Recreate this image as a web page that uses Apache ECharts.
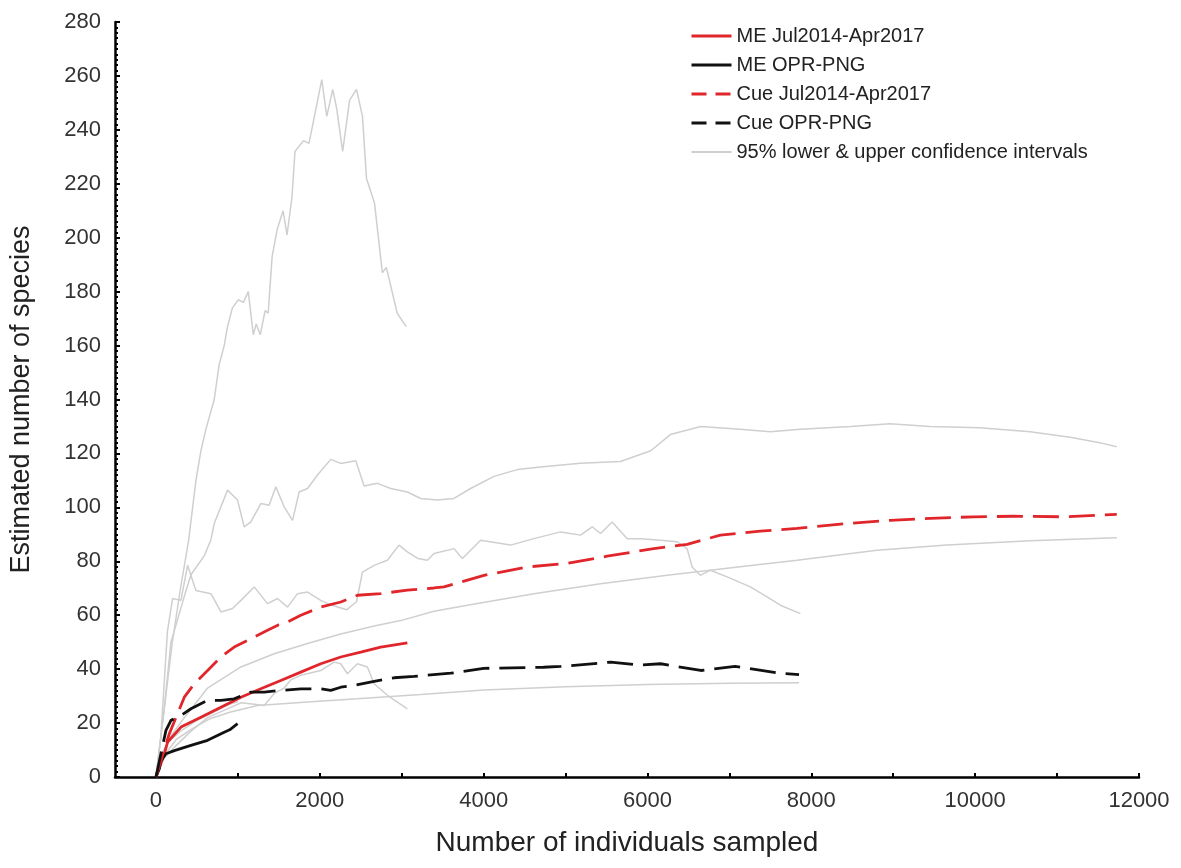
<!DOCTYPE html>
<html>
<head>
<meta charset="utf-8">
<script src="https://cdn.jsdelivr.net/npm/echarts@6/dist/echarts.min.js"></script>
<style>
  html, body { margin: 0; padding: 0; background: #fff; }
  #chart { width: 1181px; height: 868px; }
</style>
</head>
<body>
<div id="chart"></div>
<script>
// rarefaction curves: [individuals, species]
var meJul = [[0,0],[20,0.5],[102,8.6],[143,13],[305,18.5],[549,22.2],[793,25.9],[1037,29.6],[1280,32.7],[1524,35.8],[1768,38.9],[2012,42],[2256,44.5],[2500,46.3],[2744,48.2],[3069,49.7]];
var meOpr = [[0,0],[40,3],[61,6],[122,8.6],[224,9.8],[427,11.7],[630,13.6],[833,16.6],[900,17.5],[996,19.8]];
var cueJul = [[0,0],[100,10],[162,16],[264,23.5],[346,29.6],[468,34.6],[630,39.5],[793,44.5],[955,48.2],[1159,51.3],[1362,54.4],[1500,56.5],[1606,57.5],[1768,60],[2012,63],[2256,64.9],[2459,67.4],[2744,68],[3069,69.3],[3394,70.1],[3516,70.5],[4004,74.8],[4533,77.9],[5021,79.2],[5508,81.9],[6077,84.7],[6484,86.3],[6890,89.7],[7378,91.2],[7825,92.2],[8435,94],[8963,95.2],[9451,95.9],[9980,96.5],[10467,96.7],[11077,96.5],[11728,97.4]];
var cueOpr = [[0,0],[61,8.7],[122,17.3],[183,21],[305,22.8],[427,25.3],[630,28.4],[793,28.4],[955,29],[1159,31.5],[1321,31.5],[1524,32.1],[1768,32.7],[2012,32.7],[2134,32.1],[2256,33.3],[2419,34],[2663,35.5],[2907,36.8],[3150,37.3],[3600,38.5],[4000,40.3],[4730,40.7],[4940,41],[5550,42.6],[5915,41.5],[6160,42],[6650,39.5],[7070,41],[7620,38.5],[7850,38]];

// 95% confidence limits
var meJulUpper = [[0,0],[100,25],[200,50],[300,70],[400,88],[488,110],[549,121],[610,129],[711,140],[772,153],[833,160],[873,167],[933,174],[1006,177],[1067,176],[1127,180],[1188,164],[1224,168],[1273,164],[1333,173],[1370,172],[1418,193],[1479,203],[1552,210],[1600,201],[1660,215],[1697,232],[1800,236],[1867,235],[1915,242],[2024,258.6],[2085,245],[2158,255],[2206,248],[2279,232],[2364,251],[2448,255],[2521,245],[2570,222],[2667,213],[2764,187],[2812,189],[2945,172],[3055,167]];
var meJulLower = [[0,0],[100,7],[224,11],[427,17],[630,22],[1037,27.5],[1199,27],[1321,26.5],[1443,31],[1565,33],[1646,36],[1768,37.7],[2012,39.5],[2175,42.6],[2256,42],[2337,38.3],[2459,42],[2581,40.8],[2663,34.6],[2825,30.3],[3069,25.3]];
var meOprUpper = [[0,0],[60,8],[150,13],[300,17],[500,21],[700,24],[900,27],[1000,28]];
var cueJulUpper = [[0,0],[100,25],[183,50],[346,67],[427,75],[589,82],[671,88],[711,94],[874,106.4],[996,102.7],[1077,92.8],[1159,94.6],[1280,101.4],[1382,100.8],[1463,107.6],[1565,100.2],[1667,95.2],[1748,105.7],[1850,107],[1972,112],[2134,117.8],[2256,116.3],[2439,117.3],[2541,107.9],[2703,108.9],[2866,107],[3069,105.7],[3232,103.3],[3435,102.7],[3638,103.3],[3841,107],[4126,111.5],[4411,114],[4695,115],[5180,116.4],[5670,117],[6040,121],[6280,127],[6650,130],[7130,129],[7500,128],[7870,129],[8480,130],[8960,131],[9450,130],[10060,129.5],[10670,128],[11160,126],[11520,124],[11728,122.5]];
var cueJulLower = [[0,0],[100,10],[200,16],[346,22],[630,33],[1037,40.8],[1443,45.7],[1850,49.5],[2256,53],[2663,56],[2988,58],[3394,61.5],[3801,63.7],[4614,68],[5427,71.7],[6240,74.8],[7052,77.7],[7825,80.4],[8801,84.1],[9655,86],[10671,87.6],[11728,88.7]];
var cueOprUpper = [[0,0],[60,15],[100,34.5],[140,54],[203,66.2],[305,65.5],[386,78.5],[488,69.2],[671,68],[793,61.2],[935,62.5],[1037,65.5],[1199,70.5],[1362,64.3],[1484,66.2],[1606,63],[1728,68],[1850,68.6],[2012,65.5],[2121,64],[2327,62],[2448,65],[2521,76],[2663,78.5],[2825,80.4],[2967,86],[3069,83.5],[3200,81],[3313,80.4],[3394,82.9],[3638,84.7],[3740,81],[3963,87.8],[4329,86],[4614,88.4],[4939,90.9],[5183,89.7],[5325,92.8],[5427,90.3],[5569,94.6],[5752,88.4],[5915,88.4],[6159,87.8],[6362,87.2],[6484,84.7],[6545,77.9],[6646,74.8],[6768,76.7],[6972,74.2],[7256,70.5],[7459,66.8],[7622,63.7],[7866,60.6]];
var cueOprLower = [[0,0],[100,8],[250,14],[450,18],[650,21.5],[900,24],[1240,26.5],[1850,27.8],[2459,29],[3232,30.6],[4000,32.3],[5000,33.5],[6000,34.3],[7000,34.8],[7850,35]];

var xLabelValues = [0,2000,4000,6000,8000,10000,12000];
var xTickValues = [0,1000,2000,3000,4000,5000,6000,7000,8000,9000,10000,11000,12000];

var ciName = '95% lower & upper confidence intervals';
var RED = '#e0262b', BLACK = '#111111', GREY = '#cfcfcf';
var font = 'Liberation Sans, Arial, sans-serif';

function ci(d) {
  return {name: ciName, type: 'line', data: d, symbol: 'none', z: 1,
    lineStyle: {color: GREY, width: 1.5}, itemStyle: {color: GREY}};
}
function est(name, d, color, dashed) {
  return {name: name, type: 'line', data: d, symbol: 'none', z: 3,
    lineStyle: {color: color, width: 2.8, type: dashed ? [26, 10] : 'solid'},
    itemStyle: {color: color}};
}

var chart = echarts.init(document.getElementById('chart'));
chart.setOption({
  animation: false,
  textStyle: {fontFamily: font},
  grid: {left: 115, right: 42, top: 22, bottom: 91},
  legend: {
    orient: 'vertical', left: 685, top: 21, itemWidth: 40, itemHeight: 14, itemGap: 9,
    itemStyle: {opacity: 0},
    textStyle: {fontSize: 20, color: '#222', fontFamily: font},
    data: [
      {name: 'ME Jul2014-Apr2017', lineStyle: {width: 3}},
      {name: 'ME OPR-PNG', lineStyle: {width: 3}},
      {name: 'Cue Jul2014-Apr2017', lineStyle: {width: 3, type: [15, 9]}},
      {name: 'Cue OPR-PNG', lineStyle: {width: 3, type: [15, 9]}},
      {name: ciName}
    ]
  },
  xAxis: {
    type: 'value', min: -500, max: 12000,
    name: 'Number of individuals sampled', nameLocation: 'middle', nameGap: 52,
    nameTextStyle: {fontSize: 28, color: '#222'},
    axisLine: {lineStyle: {color: '#000', width: 2.5}},
    axisTick: {inside: true, length: 4, lineStyle: {color: '#000', width: 2}, customValues: xTickValues},
    axisLabel: {fontSize: 22, color: '#333', margin: 13, customValues: xLabelValues,
      formatter: function (v) { return String(v); }},
    splitLine: {show: false}
  },
  yAxis: {
    type: 'value', min: 0, max: 280, interval: 20,
    name: 'Estimated number of species', nameLocation: 'middle', nameGap: 80,
    nameTextStyle: {fontSize: 27, color: '#222'},
    axisLine: {onZero: false, lineStyle: {color: '#000', width: 2.5}},
    axisTick: {inside: true, length: 5, lineStyle: {color: '#000', width: 2}},
    minorTick: {show: true, splitNumber: 10, length: 3, lineStyle: {color: '#000', width: 2}},
    axisLabel: {fontSize: 22, color: '#333', margin: 14},
    splitLine: {show: false}
  },
  series: [
    ci(meJulUpper), ci(meJulLower), ci(meOprUpper),
    ci(cueJulUpper), ci(cueJulLower), ci(cueOprUpper), ci(cueOprLower),
    est('ME Jul2014-Apr2017', meJul, RED, false),
    est('ME OPR-PNG', meOpr, BLACK, false),
    est('Cue Jul2014-Apr2017', cueJul, RED, true),
    est('Cue OPR-PNG', cueOpr, BLACK, true)
  ]
});
window.addEventListener('resize', chart.resize);
</script>
</body>
</html>
